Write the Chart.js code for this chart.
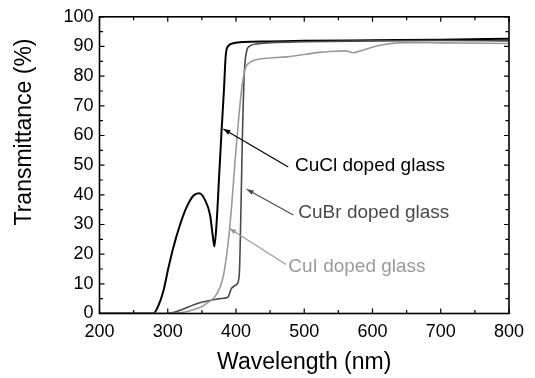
<!DOCTYPE html>
<html>
<head>
<meta charset="utf-8">
<script src="https://cdn.jsdelivr.net/npm/chart.js@4.4.1/dist/chart.umd.min.js"></script>
<style>
  html, body { margin: 0; padding: 0; background: #fff; }
  #wrap { width: 535px; height: 378px; }
</style>
</head>
<body>
<div id="wrap"><canvas id="spectra" width="535" height="378"></canvas></div>
<script>
// transmittance spectra (nm, %)
const cuclWl = [200, 279, 286, 293.5, 301, 308, 318, 328, 337.5, 346, 354.5, 362, 365.8, 368.3, 371.7, 375.6, 379, 382.4, 384.9, 388.7, 396, 410, 450, 500, 600, 700, 800];
const cuclT  = [0, 0, 2.5, 7.5, 15.4, 22.1, 29.9, 36, 39.7, 40.5, 38.3, 33.2, 26.5, 22.6, 31, 47.7, 62.2, 75.6, 86.8, 90.2, 91.1, 91.5, 91.7, 91.9, 92.1, 92.3, 92.6];

const cubrWl = [200, 298, 347, 369, 376.5, 388, 393.7, 401, 404.8, 406.9, 409.3, 412.2, 415.7, 420.5, 432.7, 450, 500, 600, 700, 800];
const cubrT  = [0, 0, 3.6, 4.7, 5, 5.5, 8.6, 9.8, 13.1, 31, 58.9, 81.2, 88.5, 90.2, 90.9, 91.3, 91.6, 91.9, 92, 91.9];

const cuiWl = [200, 303, 347, 357, 371.7, 381.4, 388.7, 393.7, 398.5, 403.4, 408.3, 413.2, 420.5, 432.7, 450, 474, 523, 538, 560, 572, 582, 611, 645, 700, 800];
const cuiT  = [0, 0, 2, 3.4, 6.5, 12.5, 24.3, 36.6, 51.1, 64.5, 75.6, 82.3, 84.6, 85.7, 86.1, 86.5, 88, 88.3, 88.5, 87.9, 88.5, 90.4, 91.3, 91.2, 91];

const seriesNames = ["CuCl doped glass", "CuBr doped glass", "CuI doped glass"];
const xTicks = [200, 300, 400, 500, 600, 700, 800];
const yTicks = [0, 10, 20, 30, 40, 50, 60, 70, 80, 90, 100];

const FONT = "'Liberation Sans', Arial, sans-serif";
const colors = ["#000000", "#4a4a4a", "#9a9a9a"];

function pts(xs, ys) {
  return xs.map((x, i) => ({ x: x, y: ys[i] }));
}

// label text anchor, arrow tail, arrow head (data coords)
const notes = [
  { at: [486.4, 49.8], from: [476.6, 49.4], to: [381.5, 62.2] },
  { at: [491.3, 34.0], from: [484.0, 33.2], to: [415.7, 41.9] },
  { at: [476.6, 15.9], from: [473.3, 16.5], to: [390.0, 28.7] },
];

const framePlugin = {
  id: "frame",
  afterDraw(chart) {
    const ctx = chart.ctx;
    const a = chart.chartArea;
    const xs = chart.scales.x;
    const ys = chart.scales.y;
    ctx.save();

    // inward ticks on all sides
    ctx.strokeStyle = "#000";
    ctx.lineWidth = 1.2;
    ctx.beginPath();
    for (let v = 200; v <= 800; v += 50) {
      const px = xs.getPixelForValue(v);
      const len = v % 100 === 0 ? 5 : 3.5;
      ctx.moveTo(px, a.bottom); ctx.lineTo(px, a.bottom - len);
      ctx.moveTo(px, a.top); ctx.lineTo(px, a.top + len);
    }
    for (let v = 0; v <= 100; v += 5) {
      const py = ys.getPixelForValue(v);
      const len = v % 10 === 0 ? 5 : 3.5;
      ctx.moveTo(a.left, py); ctx.lineTo(a.left + len, py);
      ctx.moveTo(a.right, py); ctx.lineTo(a.right - len, py);
    }
    ctx.stroke();

    // box
    ctx.lineWidth = 1.6;
    ctx.strokeRect(a.left, a.top, a.right - a.left, a.bottom - a.top);

    // annotations with arrows
    ctx.font = "19px " + FONT;
    ctx.textBaseline = "middle";
    ctx.textAlign = "left";
    notes.forEach((n, i) => {
      const c = colors[i];
      const x0 = xs.getPixelForValue(n.from[0]), y0 = ys.getPixelForValue(n.from[1]);
      const x1 = xs.getPixelForValue(n.to[0]), y1 = ys.getPixelForValue(n.to[1]);
      ctx.strokeStyle = c;
      ctx.fillStyle = c;
      ctx.lineWidth = 1.2;
      ctx.beginPath();
      ctx.moveTo(x0, y0); ctx.lineTo(x1, y1);
      ctx.stroke();
      const ang = Math.atan2(y1 - y0, x1 - x0);
      const hl = 7, hw = 2.5;
      ctx.beginPath();
      ctx.moveTo(x1, y1);
      ctx.lineTo(x1 - hl * Math.cos(ang) + hw * Math.sin(ang), y1 - hl * Math.sin(ang) - hw * Math.cos(ang));
      ctx.lineTo(x1 - hl * Math.cos(ang) - hw * Math.sin(ang), y1 - hl * Math.sin(ang) + hw * Math.cos(ang));
      ctx.closePath();
      ctx.fill();
      ctx.fillText(seriesNames[i], xs.getPixelForValue(n.at[0]), ys.getPixelForValue(n.at[1]));
    });

    // axis titles
    ctx.fillStyle = "#000";
    ctx.font = "23px " + FONT;
    ctx.textAlign = "center";
    ctx.fillText("Wavelength (nm)", (a.left + a.right) / 2, 363);
    ctx.translate(25, 132);
    ctx.rotate(-Math.PI / 2);
    ctx.fillText("Transmittance (%)", 0, 0);
    ctx.restore();
  },
};

const lineSets = [
  { data: pts(cuclWl, cuclT), width: 2 },
  { data: pts(cubrWl, cubrT), width: 1.6 },
  { data: pts(cuiWl, cuiT), width: 1.6 },
];

new Chart(document.getElementById("spectra"), {
  type: "scatter",
  data: {
    datasets: lineSets.map((s, i) => ({
      label: seriesNames[i],
      data: s.data,
      showLine: true,
      borderColor: colors[i],
      borderWidth: s.width,
      pointRadius: 0,
      cubicInterpolationMode: "monotone",
      order: 3 - i,
    })),
  },
  options: {
    responsive: false,
    animation: false,
    layout: { padding: { top: 14, right: 26, left: 0, bottom: 0 } },
    plugins: { legend: { display: false }, tooltip: { enabled: false } },
    scales: {
      x: {
        type: "linear",
        min: 200,
        max: 800,
        afterFit(scale) { scale.height = 64.5; },
        afterBuildTicks(scale) { scale.ticks = xTicks.map(v => ({ value: v })); },
        grid: { display: false, drawTicks: false },
        border: { display: false },
        ticks: { color: "#000", padding: 8, maxRotation: 0, font: { size: 18, family: FONT } },
      },
      y: {
        min: 0,
        max: 100,
        afterFit(scale) { scale.width = 99.5; },
        afterBuildTicks(scale) { scale.ticks = yTicks.map(v => ({ value: v })); },
        grid: { display: false, drawTicks: false },
        border: { display: false },
        ticks: { color: "#000", padding: 6, font: { size: 18, family: FONT } },
      },
    },
  },
  plugins: [framePlugin],
});
</script>
</body>
</html>
